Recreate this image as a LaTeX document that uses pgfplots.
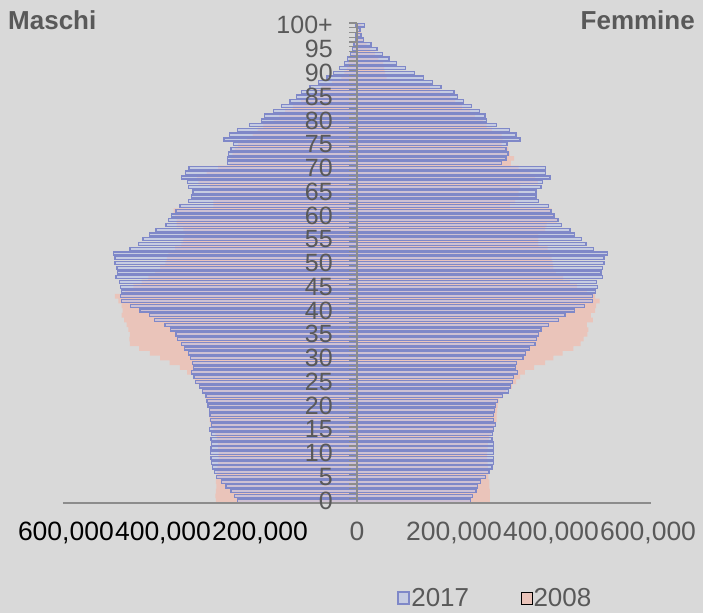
\documentclass[border=0pt]{standalone}
\usepackage{fontspec}
\setmainfont{Liberation Sans}
\usepackage{pgfplots}
\pgfplotsset{compat=1.18}
\definecolor{bg}{HTML}{D9D9D9}
\definecolor{pinkA}{HTML}{EAC4BA}
\definecolor{blueL}{HTML}{7F88C8}
\definecolor{blueF}{HTML}{B4C0EC}
\definecolor{axgray}{HTML}{8C8C8C}
\definecolor{txtgray}{HTML}{595959}
\begin{document}
\begin{tikzpicture}
\fill[bg] (0,0) rectangle (703bp,613bp);
\begin{axis}[
  at={(63bp,110bp)}, anchor=south west,
  scale only axis, width=588bp, height=480bp,
  xmin=-606, xmax=606, ymin=-0.5, ymax=100.5,
  axis line style={draw=none},
  tick style={draw=none},
  axis on top,
  xtick={-600,-400,...,600},
  xticklabels={{\color{black}600,000},{\color{black}400,000},{\color{black}200,000},0,{200,000},{400,000},{600,000}},
  ytick={0,5,...,100},
  yticklabels={0,5,10,15,20,25,30,35,40,45,50,55,60,65,70,75,80,85,90,95,100+},
  tick label style={font=\fontsize{25bp}{30bp}\selectfont, text=txtgray},
  xticklabel style={anchor=base, yshift=-37bp, font=\fontsize{26.5bp}{30bp}\selectfont},
  yticklabel style={anchor=east, inner xsep=0pt, xshift=270bp},
  legend style={draw=none, fill=none, at={(rel axis cs:0.735,-0.198)}, anchor=center,
    legend columns=2, font=\fontsize{26bp}{30bp}\selectfont, text=txtgray,
    nodes={inner xsep=1.5bp, inner ysep=1bp},
    /tikz/every even column/.append style={column sep=50bp}},
  legend image code/.code={\draw[#1] (0bp,-6bp) rectangle (11bp,6bp);},
]
% 2008 maschi
\addplot[forget plot, xbar, bar shift=0pt, bar width=0.96, fill=pinkA, draw=none] coordinates {
(-291,0) (-292,1) (-291,2) (-290,3) (-291,4) (-290,5) (-289,6) (-288,7) (-286,8) (-285,9)
(-285,10) (-286,11) (-287,12) (-289,13) (-292,14) (-296,15) (-302,16) (-304,17) (-304,18) (-305,19)
(-307,20) (-310,21) (-313,22) (-318,23) (-325,24) (-333,25) (-338,26) (-350,27) (-365,28) (-386,29)
(-406,30) (-427,31) (-449,32) (-468,33) (-469,34) (-468,35) (-471,36) (-475,37) (-480,38) (-485,39)
(-483,40) (-485,41) (-492,42) (-499,43) (-478,44) (-461,45) (-444,46) (-430,47) (-416,48) (-406,49)
(-395,50) (-392,51) (-389,52) (-375,53) (-362,54) (-358,55) (-355,56) (-358,57) (-372,58) (-372,59)
(-375,60) (-378,61) (-296,62) (-296,63) (-303,64) (-303,65) (-303,66) (-327,67) (-330,68) (-310,69)
(-286,70) (-262,71) (-260,72) (-257,73) (-252,74) (-245,75) (-227,76) (-215,77) (-205,78) (-193,79)
(-172,80) (-160,81) (-148,82) (-132,83) (-115,84) (-100,85) (-86,86) (-72,87) (-52,88) (-32,89)
(-26,90) (-21,91) (-19,92) (-15,93) (-11,94) (-7,95) (-5,96) (-3,97) (-2,98) (-1.2,99) (-1,100)};
% 2008 femmine
\addplot[forget plot, xbar, bar shift=0pt, bar width=0.96, fill=pinkA, draw=none] coordinates {
(274,0) (274,1) (274,2) (273,3) (273,4) (271,5) (270,6) (270,7) (269,8) (268,9)
(268,10) (269,11) (270,12) (272,13) (276,14) (282,15) (286,16) (288,17) (288,18) (289,19)
(290,20) (292,21) (300,22) (307,23) (319,24) (328,25) (336,26) (346,27) (365,28) (388,29)
(405,30) (424,31) (446,32) (461,33) (467,34) (475,35) (477,36) (474,37) (486,38) (482,39)
(491,40) (493,41) (500,42) (491,43) (474,44) (453,45) (439,46) (425,47) (410,48) (405,49)
(403,50) (401,51) (398,52) (393,53) (374,54) (374,55) (374,56) (388,57) (391,58) (412,59)
(405,60) (401,61) (315,62) (326,63) (333,64) (333,65) (336,66) (373,67) (367,68) (357,69)
(333,70) (317,71) (324,72) (315,73) (312,74) (298,75) (300,76) (298,77) (278,78) (267,79)
(260,80) (243,81) (233,82) (216,83) (202,84) (192,85) (171,86) (150,87) (89,88) (61,89)
(58,90) (56,91) (54,92) (44,93) (37,94) (27,95) (20,96) (14,97) (10,98) (7,99) (9,100)};
% 2017 maschi
\addplot[forget plot, xbar, bar shift=0pt, bar width=0.66, fill=blueF, fill opacity=0.5, draw=blueL, line width=1.3bp] coordinates {
(-247,0) (-252,1) (-260,2) (-270,3) (-279,4) (-289,5) (-294,6) (-298,7) (-300,8) (-301,9)
(-302,10) (-301,11) (-300,12) (-301,13) (-300,14) (-304,15) (-300,16) (-302,17) (-303,18) (-304,19)
(-307,20) (-309,21) (-311,22) (-318,23) (-325,24) (-333,25) (-336,26) (-341,27) (-337,28) (-339,29)
(-343,30) (-348,31) (-355,32) (-362,33) (-370,34) (-373,35) (-384,36) (-396,37) (-417,38) (-428,39)
(-447,40) (-467,41) (-485,42) (-487,43) (-485,44) (-487,45) (-489,46) (-497,47) (-494,48) (-495,49)
(-499,50) (-499,51) (-502,52) (-468,53) (-451,54) (-441,55) (-427,56) (-414,57) (-394,58) (-389,59)
(-382,60) (-373,61) (-365,62) (-348,63) (-341,64) (-338,65) (-348,66) (-350,67) (-362,68) (-353,69)
(-346,70) (-267,71) (-267,72) (-265,73) (-260,74) (-255,75) (-274,76) (-263,77) (-247,78) (-221,79)
(-197,80) (-190,81) (-172,82) (-155,83) (-138,84) (-124,85) (-114,86) (-97,87) (-80,88) (-62,89)
(-49,90) (-36,91) (-26,92) (-20,93) (-13,94) (-9,95) (-6,96) (-3.5,97) (-2.5,98) (-1.5,99) (-2.5,100)};
% 2017 femmine
\addplot[forget plot, xbar, bar shift=0pt, bar width=0.66, fill=blueF, fill opacity=0.5, draw=blueL, line width=1.3bp] coordinates {
(234,0) (238,1) (245,2) (248,3) (254,4) (265,5) (272,6) (278,7) (281,8) (282,9)
(281,10) (281,11) (282,12) (278,13) (280,14) (282,15) (285,16) (281,17) (282,18) (283,19)
(285,20) (289,21) (300,22) (312,23) (316,24) (320,25) (322,26) (331,27) (327,28) (329,29)
(342,30) (348,31) (355,32) (367,33) (370,34) (374,35) (379,36) (395,37) (415,38) (429,39)
(448,40) (469,41) (486,42) (486,43) (491,44) (496,45) (494,46) (506,47) (503,48) (506,49)
(509,50) (509,51) (517,52) (487,53) (472,54) (463,55) (448,56) (439,57) (421,58) (414,59)
(406,60) (400,61) (395,62) (374,63) (369,64) (369,65) (379,66) (382,67) (398,68) (388,69)
(388,70) (298,71) (307,72) (311,73) (307,74) (309,75) (336,76) (328,77) (315,78) (288,79)
(267,80) (264,81) (252,82) (236,83) (219,84) (207,85) (200,86) (173,87) (155,88) (137,89)
(118,90) (100,91) (82,92) (66,93) (53,94) (41,95) (29,96) (13,97) (8,98) (6,99) (15,100)};
\addlegendimage{draw=blueL, fill=blueF, fill opacity=0.5, line width=1.3bp}
\addlegendentry{2017}
\addlegendimage{draw=none, fill=pinkA}
\addlegendentry{2008}
\draw[axgray, line width=1.8bp] (axis cs:-606,-0.5) -- (axis cs:606,-0.5);
\draw[axgray, line width=1.8bp] (axis cs:0,-0.5) -- (axis cs:0,100.5);
\pgfplotsinvokeforeach{0,...,101}{\draw[axgray, line width=1.1bp] (axis cs:0,#1-0.5) -- ([xshift=-8bp]axis cs:0,#1-0.5);}
\end{axis}
\node[anchor=west, text=txtgray, font=\fontsize{26bp}{30bp}\selectfont\bfseries, inner sep=0pt] at (8bp,593bp) {Maschi};
\node[anchor=east, text=txtgray, font=\fontsize{26bp}{30bp}\selectfont\bfseries, inner sep=0pt] at (695bp,593bp) {Femmine};
\pgfresetboundingbox
\useasboundingbox (0,0) rectangle (703bp,613bp);
\end{tikzpicture}
\end{document}
